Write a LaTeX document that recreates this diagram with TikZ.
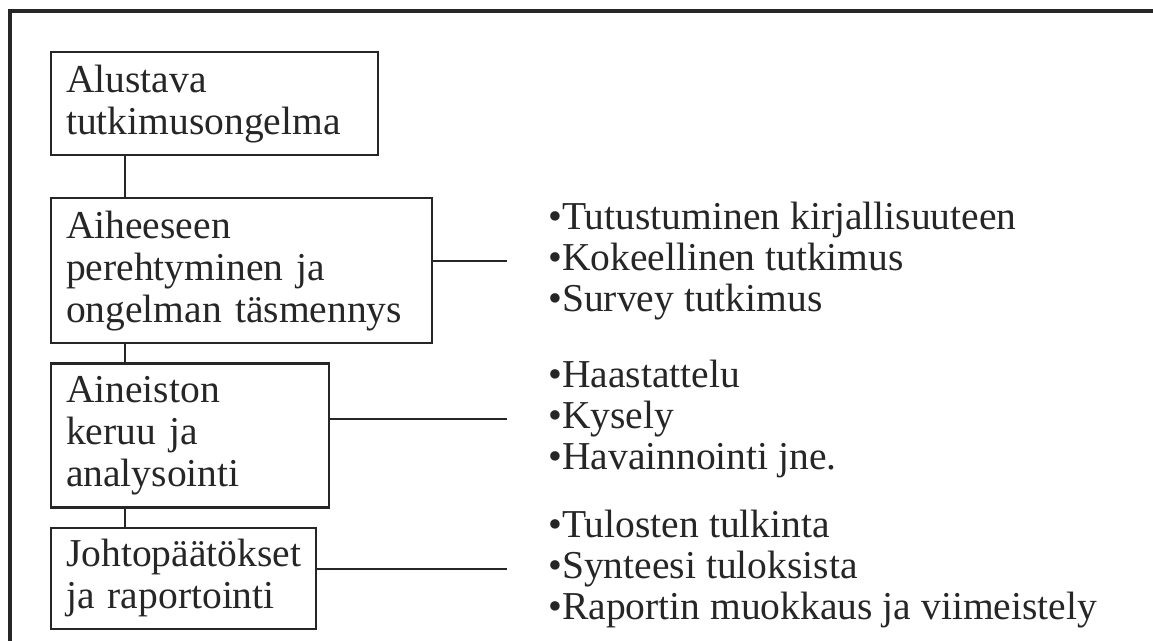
\documentclass[tikz,border=0pt]{standalone}
\usepackage{fontspec}
\setmainfont{Liberation Serif}
\usetikzlibrary{positioning}
\definecolor{Ink}{HTML}{262626}

\begin{document}
\begin{tikzpicture}[every node/.style={font=\fontsize{22.5}{23.9}\selectfont, text=Ink}]
        \tikzstyle{stage}=[draw=Ink, line width=1.25pt, align=left, inner xsep=0.3cm, anchor=north west]
        \tikzstyle{items}=[align=left, inner xsep=0.82cm, anchor=west, font=\fontsize{22.5}{23.4}\selectfont]
        \tikzstyle{link}=[draw=Ink, line width=1.25pt]
        \useasboundingbox (0,0) rectangle (23.06,-12.82);
        \draw[Ink, line width=1.9pt] (0.2,-12.9) -- (0.2,-0.22) -- (23.1,-0.22);
        \node[stage, text width=5.94cm, minimum height=2.06cm] (a) at (1.0,-1.02) {Alustava\\tutkimusongelma};
        \node[stage, text width=7.02cm, minimum height=2.9cm, below=0.82cm of a.south west, anchor=north west] (b) {Aiheeseen\\perehtyminen ja\\ongelman täsmennys};
        \node[stage, text width=4.96cm, minimum height=2.88cm, below=0.36cm of b.south west, anchor=north west] (c) {Aineiston\\keruu ja\\analysointi};
        \node[stage, text width=4.7cm, minimum height=2.02cm, below=0.36cm of c.south west, anchor=north west] (d) {Johtopäätökset\\ja raportointi};
        \node[items] (bi) at (10.14,-5.22) {\textbullet Tutustuminen kirjallisuuteen\\\textbullet Kokeellinen tutkimus\\\textbullet Survey tutkimus};
        \node[items] (ci) at (10.14,-8.38) {\textbullet Haastattelu\\\textbullet Kysely\\\textbullet Havainnointi jne.};
        \node[items] (di) at (10.14,-11.38) {\textbullet Tulosten tulkinta\\\textbullet Synteesi tuloksista\\\textbullet Raportin muokkaus ja viimeistely};
        \draw[link] ([xshift=1.5cm]a.south west) -- ([xshift=1.5cm]b.north west);
        \draw[link] ([xshift=1.5cm]b.south west) -- ([xshift=1.5cm]c.north west);
        \draw[link] ([xshift=1.5cm]c.south west) -- ([xshift=1.5cm]d.north west);
        \draw[link] (b.east |- bi.west) -- (bi.west);
        \draw[link] (c.east |- ci.west) -- (ci.west);
        \draw[link] (d.east |- di.west) -- (di.west);
      \end{tikzpicture}
\end{document}
